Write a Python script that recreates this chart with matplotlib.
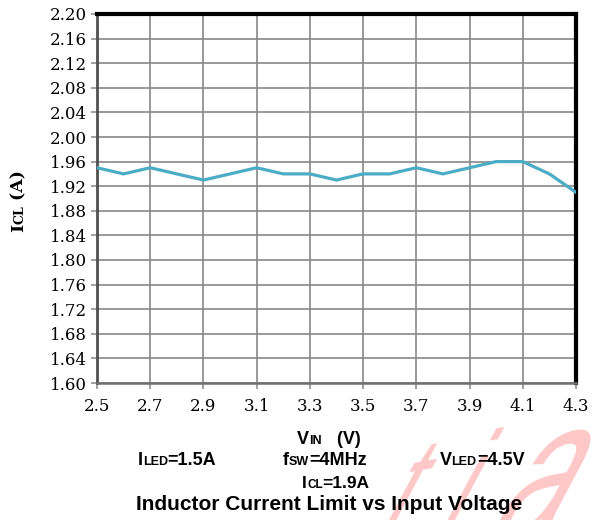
import numpy as np
import matplotlib
matplotlib.use("Agg")
import matplotlib.pyplot as plt
from matplotlib.transforms import IdentityTransform, Affine2D
from matplotlib.textpath import TextPath
from matplotlib.patches import PathPatch
from matplotlib.font_manager import FontProperties

# Input voltage sweep and measured inductor current limit
vin = [2.5, 2.6, 2.7, 2.8, 2.9, 3.0, 3.1, 3.2, 3.3, 3.4,
       3.5, 3.6, 3.7, 3.8, 3.9, 4.0, 4.1, 4.2, 4.3]
icl = [1.95, 1.94, 1.95, 1.94, 1.93, 1.94, 1.95, 1.94, 1.94, 1.93,
       1.94, 1.94, 1.95, 1.94, 1.95, 1.96, 1.96, 1.94, 1.91]

xticks = [2.5, 2.7, 2.9, 3.1, 3.3, 3.5, 3.7, 3.9, 4.1, 4.3]
yticks = np.round(np.arange(1.60, 2.2001, 0.04), 2)

W, H = 592, 520
fig = plt.figure(figsize=(W / 100, H / 100), dpi=100)
ax = fig.add_axes([97 / W, 1 - 383 / H, (576 - 97) / W, (383 - 14) / H])
ax.patch.set_alpha(0)

ax.plot(vin, icl, color="#4bacc6", lw=2.3, zorder=3, solid_joinstyle="miter")

ax.set_xlim(2.5, 4.3)
ax.set_ylim(1.60, 2.20)
ax.set_xticks(xticks)
ax.set_yticks(yticks)
ax.set_xticklabels([f"{v:.1f}" for v in xticks])
ax.set_yticklabels([f"{v:.2f}" for v in yticks])
ax.grid(True, color="#888888", lw=1.2)
ax.set_axisbelow(True)
ax.tick_params(direction="out", length=4, width=1.1, color="#888888",
               labelsize=12, pad=3)
ax.tick_params(axis="x", pad=7)
for lab in ax.get_xticklabels() + ax.get_yticklabels():
    lab.set_fontfamily("DejaVu Serif")

ax.spines["top"].set_color("black")
ax.spines["top"].set_linewidth(3)
ax.spines["right"].set_color("black")
ax.spines["right"].set_linewidth(3)
ax.spines["left"].set_color("#505050")
ax.spines["left"].set_linewidth(2)
ax.spines["bottom"].set_color("#707070")
ax.spines["bottom"].set_linewidth(1.8)

renderer = fig.canvas.get_renderer()


def rich(cx, cy, parts, rotation=0, family="Liberation Sans", weight="bold"):
    # draw text pieces of mixed size on one baseline, centred at (cx, cy) in pixels from top-left
    widths = []
    objs = []
    for s, size in parts:
        t = fig.text(0, 0, s, fontsize=size, family=family, weight=weight,
                     ha="left", va="baseline", transform=IdentityTransform())
        widths.append(t.get_window_extent(renderer=renderer).width)
        objs.append(t)
    total = sum(widths)
    pos = -total / 2
    for t, w in zip(objs, widths):
        if rotation == 90:
            t.set_rotation(90)
            t.set_rotation_mode("anchor")
            t.set_position((cx, H - cy + pos))
        else:
            t.set_position((cx + pos, H - cy))
        pos += w


big, small = 13, 9
rich(329, 444, [("V", big), ("IN", small), ("   (V)", big)])
rich(177, 465, [("I", big), ("LED", small), ("=1.5A", big)])
rich(325, 465, [("f", big), ("SW", small), ("=4MHz", big)])
rich(482, 465, [("V", big), ("LED", small), ("=4.5V", big)])
rich(336, 488, [("I", 12.5), ("CL", 8.5), ("=1.9A", 12.5)])
fig.text(329 / W, 1 - 505 / H, "Inductor Current Limit vs Input Voltage",
         family="Liberation Sans", weight="bold", fontsize=15,
         ha="center", va="center")

rich(23, 201, [("I", 12.5), ("CL", 9), (" (A)", 12.5)], rotation=90,
     family="DejaVu Serif")

# slanted watermark letters, placed one by one (pixels from top-left)
wm_font = FontProperties(family="Liberation Sans")
for ch, px, py, sz in [("t", 372, 540, 130), ("i", 434, 535, 130),
                       ("a", 480, 548, 185)]:
    path = TextPath((0, 0), ch, size=1, prop=wm_font)
    tr = (Affine2D().scale(sz * 0.72, sz).skew_deg(38, 0).rotate_deg(10)
          .translate(px, H - py))
    fig.patches.append(PathPatch(path, transform=tr, facecolor="#ffc8c8",
                                 edgecolor="none", zorder=-1))

fig.savefig("out.png", dpi=100)
